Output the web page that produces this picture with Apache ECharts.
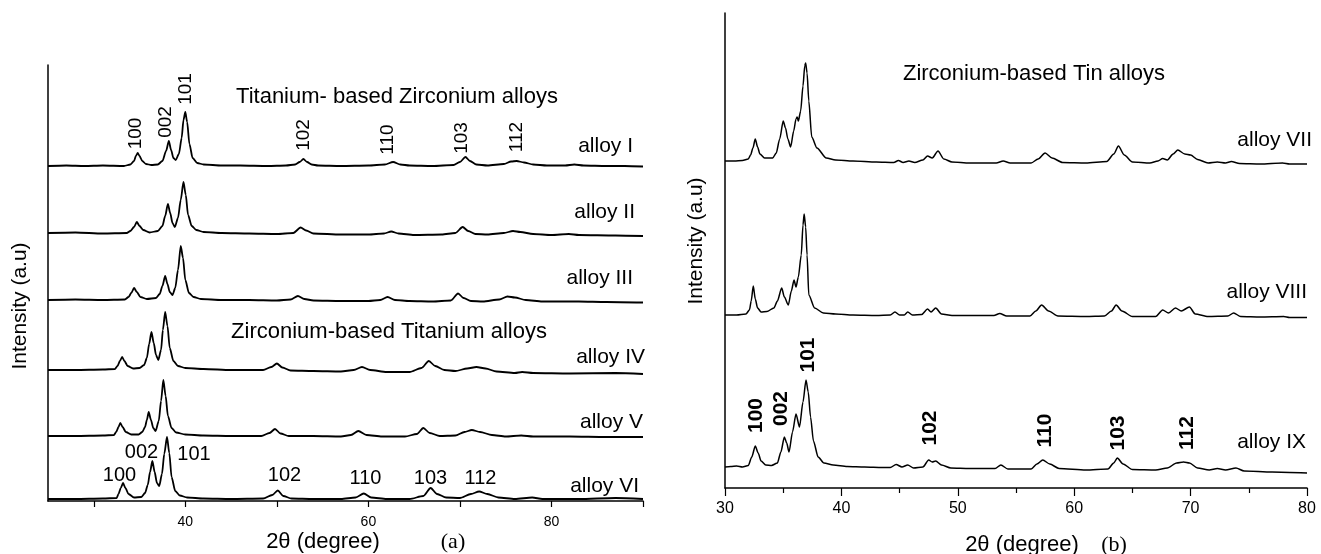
<!DOCTYPE html>
<html><head><meta charset="utf-8">
<script src="https://cdn.jsdelivr.net/npm/echarts@6/dist/echarts.min.js"></script>
<style>html,body{margin:0;padding:0;background:#fff}#c{width:1321px;height:554px}</style>
</head><body><div id="c"></div>
<script>
// ---------- DATA (2θ in degrees, intensity above each pattern's baseline, arbitrary units) ----------
const alloyI = [[25,0],[27,0.5],[29,0],[31,0.5],[33.3,0],[34.0,1.5],[34.4,5],[34.6,10],[34.8,13],[35.0,10],[35.3,5],[35.7,2],[36.3,1],[37.0,1.5],[37.5,5],[37.9,15],[38.2,25],[38.45,16],[38.7,8],[38.95,6],[39.3,12],[39.6,28],[39.8,46],[40.0,54],[40.2,44],[40.45,22],[40.8,8],[41.3,3],[42,1.5],[44,0.5],[46,0.5],[49,0],[51,0.5],[52.0,1.5],[52.5,4],[52.9,7],[53.3,4],[53.8,1.5],[54.5,0.5],[57,0],[60,0.5],[61.8,1.5],[62.7,4],[63.5,1.5],[64.5,0.5],[67,0],[69.3,1],[70.0,4],[70.6,9],[71.1,5],[71.8,1.5],[73,0.5],[74.8,2],[75.6,4.5],[76.2,5],[77,3.5],[78,1.5],[79.5,0.5],[81.5,0.5],[82.5,1.5],[83.5,0.5],[86,0],[88,0],[90,-0.5]];
const alloyII = [[25,0],[28,0.5],[31,-0.5],[33.6,0],[34.0,2],[34.4,6],[34.7,11],[35.0,7],[35.4,3],[36.1,0.5],[37.0,2],[37.5,7],[37.8,17],[38.1,29],[38.35,20],[38.6,10],[38.85,6],[39.2,15],[39.5,33],[39.8,51],[40.05,38],[40.3,18],[40.7,7],[41.2,3],[42,1],[44,0],[47,-0.5],[50,-1],[51.8,0],[52.6,5.5],[53.2,2.5],[54,-0.5],[57,-1.5],[60,-1.5],[61.7,-0.5],[62.5,1.5],[63.3,-0.5],[65,-2],[68,-1.5],[69.5,0],[70.3,6],[70.9,2],[71.7,-1],[73,-1.5],[74.8,0],[75.8,2],[76.6,1],[78,-1],[80,-2],[81.9,-1],[83,-2],[87,-2.5],[90,-3]];
const alloyIII = [[25,0],[28,0.5],[31,0],[33.4,0.5],[33.8,3],[34.1,7],[34.4,12],[34.7,8],[35.1,3],[35.8,1],[36.8,2],[37.2,6],[37.5,14],[37.8,24],[38.05,16],[38.3,8],[38.6,5],[38.9,12],[39.2,30],[39.5,54],[39.75,42],[40.0,20],[40.4,7],[40.9,3],[41.7,1],[44,0],[47,0],[50,-0.5],[51.5,0.5],[52.3,4],[53.0,1],[54,-0.5],[57,-1],[60,-1],[61.3,0],[62.1,3],[62.9,0],[64.5,-1],[67,-1.5],[69,-0.5],[69.8,6.5],[70.4,2],[71.2,-1],[72.5,-1.5],[74.3,0.5],[75.2,3.5],[76,2.5],[77.2,0],[79,-1.5],[81,-1.5],[83,-1.5],[86,-2],[90,-2.5]];
const alloyIV = [[25,0],[28,0],[31,0.5],[32.3,1],[32.6,4],[32.85,9],[33.1,13],[33.35,9],[33.7,4],[34.3,1.5],[35.0,2],[35.5,5],[35.8,12],[36.05,26],[36.3,38],[36.55,27],[36.8,15],[37.05,10],[37.35,20],[37.55,40],[37.8,58],[38.05,44],[38.3,22],[38.7,9],[39.2,4],[40,2],[42,1],[45,0],[48.5,0],[49.4,3],[50.0,6.5],[50.6,2.5],[51.5,-0.5],[54,-1],[57,-1.5],[58.4,0],[59.3,3],[60.2,0],[62,-2],[64.5,-2],[65.8,2],[66.6,9],[67.3,4],[68.3,0],[69.5,-1],[70.8,1.5],[71.8,3],[72.8,1.5],[74,-1.5],[76,-3],[76.8,-2],[78,-3],[82,-3.5],[87,-3],[90,-4]];
const alloyV = [[25,0],[28,0],[31,0.5],[32.2,1],[32.45,4],[32.7,9],[32.9,13],[33.15,9],[33.5,4],[34.1,1.5],[34.9,1.5],[35.3,4],[35.6,9],[35.8,16],[36.0,24],[36.25,16],[36.5,8],[36.75,5],[37.1,15],[37.35,35],[37.6,56],[37.85,40],[38.1,20],[38.5,8],[39,3.5],[40,1.5],[42,0.5],[45,0],[48.3,0],[49.2,3],[49.8,7],[50.4,2.5],[51.3,0],[54,0],[57,-0.5],[58.1,1],[58.9,5],[59.8,1],[61.5,-0.5],[64,-0.5],[65.3,2],[66.0,8],[66.7,3],[67.8,0],[69.5,0.5],[70.5,4],[71.3,6],[72.2,4],[73.5,1],[75,-0.5],[76.7,0.5],[78,-0.5],[82,-0.5],[86,-1],[90,-1]];
const alloyVI = [[25,0],[28,0],[31,0.5],[32.5,1],[32.7,5],[32.95,11],[33.2,16],[33.45,11],[33.8,5],[34.4,1.5],[35.2,2],[35.6,6],[35.9,14],[36.15,27],[36.4,38],[36.65,27],[36.9,16],[37.15,13],[37.45,25],[37.7,45],[38.0,62],[38.25,46],[38.5,22],[38.9,8],[39.4,3.5],[40.2,1.5],[42,0.5],[45,0],[48.5,0.5],[49.5,4],[50.1,8.5],[50.7,3],[51.6,0.5],[54,0],[57,0],[58.6,1.5],[59.5,5.5],[60.3,1.5],[62,0],[64.5,0],[66,3],[66.8,11],[67.5,5],[68.5,1.5],[70,1],[71.2,5],[72.1,7.5],[73,5],[74.2,1.5],[76,0],[77.9,1.5],[79,0],[83,0],[87,1],[90,0]];

const alloyVII = [[30,0],[30.8,0],[31.5,0.5],[32.0,2],[32.2,6],[32.4,13],[32.6,22],[32.8,14],[33.0,7],[33.4,3],[34.1,3],[34.4,8],[34.7,22],[35.0,40],[35.2,33],[35.4,22],[35.64,14],[35.9,30],[36.1,42],[36.2,44],[36.3,40],[36.5,50],[36.7,75],[36.85,95],[36.93,98],[37.05,88],[37.2,60],[37.45,24],[37.9,13],[38.7,3],[39.5,1],[41,0],[43,-1],[44.5,-1.5],[44.9,0.5],[45.3,-1.5],[45.8,0],[46.3,-1.5],[47.0,1],[47.4,5],[47.8,3],[48.3,10],[48.8,2],[49.5,-1],[51,-2],[53.3,-2],[53.9,0],[54.5,-2],[56.3,-2],[56.9,2],[57.5,8],[58.1,3],[59,-1.5],[61,-2],[62.8,-0.5],[63.4,7],[63.8,15],[64.3,6],[65,-1],[66.5,-2],[67.2,0],[67.6,2.5],[68.0,1],[68.5,7],[68.9,11],[69.5,7],[70.0,6],[70.6,1.5],[71.5,-2],[72.3,-1],[73.0,-2],[73.5,-0.5],[74.2,-2.5],[76,-3],[77.9,-2],[78.5,-3],[80,-3]];
const alloyVIII = [[30,0],[31,0],[31.8,1],[32.1,5],[32.25,14],[32.43,29],[32.6,16],[32.8,7],[33.1,3],[33.6,3.5],[34.2,7],[34.5,14],[34.87,27],[35.1,18],[35.44,10],[35.7,24],[35.93,35],[36.1,28],[36.3,38],[36.55,60],[36.7,90],[36.8,101],[36.93,88],[37.05,60],[37.2,20],[37.7,7],[38.45,2],[39.5,1],[41,0],[43,-0.5],[44.2,0],[44.6,3],[45.0,0],[45.4,0],[45.7,3],[46.1,0],[46.9,0.5],[47.4,6],[47.7,3],[48.1,7],[48.6,1],[49.5,-0.5],[51,-0.5],[53.1,-0.5],[53.6,1.5],[54.2,-1],[56.2,-1],[56.7,4],[57.2,10],[57.8,4],[58.6,-1],[61,-1.5],[62.6,-1],[63.2,4],[63.6,10],[64.1,4],[65,-1.5],[67,-1.5],[67.6,5],[68.1,2],[68.7,7],[69.2,4],[69.9,8],[70.4,1],[71.5,-1.5],[73.2,-1],[73.7,2],[74.3,-1.5],[76,-2],[78,-1.5],[78.5,-2.5],[80,-2.5]];
const alloyIX = [[30,0],[30.5,0.5],[31,1],[31.5,0],[32.0,1.5],[32.3,10],[32.6,21],[32.85,14],[33.1,6],[33.5,2],[34.0,1.5],[34.5,4],[34.8,15],[35.1,30],[35.3,24],[35.5,15],[35.8,35],[36.1,53],[36.4,40],[36.7,65],[36.96,87],[37.15,75],[37.35,50],[37.6,26],[38.0,10],[38.5,4],[39.3,2],[40.5,0.5],[42,0],[43.5,-0.5],[44.2,-0.5],[44.7,2.5],[45.2,0],[45.7,2],[46.2,-1],[47.0,0],[47.5,7],[47.8,5],[48.1,6],[48.6,2],[49.4,-1],[51,-1.5],[53.2,-1.5],[53.7,2],[54.3,-2],[56.3,-2],[56.8,3],[57.3,7],[57.9,3],[58.7,-1.5],[61,-3],[62.9,-2],[63.4,4],[63.7,9],[64.2,3],[65,-2.5],[67,-3],[68,-1],[68.8,4],[69.4,5],[69.9,4],[70.6,-1],[71.6,-3],[72.3,-1.5],[73.0,-3],[73.9,-1],[74.6,-4],[77,-5],[80,-6]];

const offsetsA = [335, 268, 201, 131, 65, 2];
const offsetsB = [327, 173, 21];
const namesA = ['alloy I', 'alloy II', 'alloy III', 'alloy IV', 'alloy V', 'alloy VI'];
const namesB = ['alloy VII', 'alloy VIII', 'alloy IX'];
const hkl = ['100', '002', '101', '102', '110', '103', '112'];
const tickValuesA = [30, 40, 50, 60, 70, 80, 90];
const labelValuesA = [40, 60, 80];

// ---------- LAYOUT ----------
const SANS = '"Liberation Sans", Arial, sans-serif';
const SERIF = '"Liberation Serif", "Times New Roman", serif';
const hklPosA = [[136,133.5],[166,122],[186,89],[304,135],[388,139.5],[462,138],[517,137]];
const hklPosA6 = [[119.5,475],[141.5,452],[194,454],[284.5,475],[365.5,478],[430.5,478],[480.5,478]];
const hklPosB = [[756,415.5],[781,408.5],[808,355],[930,428],[1045,430.5],[1118,433],[1187,433]];
const namePosA = [[633,146],[635,212],[633,278],[645,357],[643,422],[639,486]];
const namePosB = [[1312,140],[1307,292],[1306,442]];

function txt(text, x, y, size, o) {
  o = o || {};
  const align = o.align || 'center';
  return {
    type: 'text', x: x, y: y, rotation: o.rot || 0, silent: true, z: 10,
    style: {
      text: text, fill: '#000',
      font: (o.weight || 'normal') + ' ' + size + 'px ' + (o.family || SANS),
      align: align, textAlign: align, verticalAlign: 'middle', textVerticalAlign: 'middle'
    }
  };
}

const chart = echarts.init(document.getElementById('c'), null, {renderer: 'canvas'});

const dataA = [alloyI, alloyII, alloyIII, alloyIV, alloyV, alloyVI];
const dataB = [alloyVII, alloyVIII, alloyIX];
const series = [];
dataA.forEach((d, i) => series.push({
  type: 'line', name: namesA[i], xAxisIndex: 0, yAxisIndex: 0, showSymbol: false, symbol: 'none',
  smooth: 0.25, smoothMonotone: 'x', animation: false,
  lineStyle: {color: '#000', width: 1.8}, data: d.map(p => [p[0], p[1] + offsetsA[i]])
}));
dataB.forEach((d, i) => series.push({
  type: 'line', name: namesB[i], xAxisIndex: 1, yAxisIndex: 1, showSymbol: false, symbol: 'none',
  smooth: 0.25, smoothMonotone: 'x', animation: false,
  lineStyle: {color: '#000', width: 1.5}, data: d.map(p => [p[0], p[1] + offsetsB[i]])
}));

const graphics = [];
hkl.forEach((t, i) => {
  graphics.push(txt(t, hklPosA[i][0], hklPosA[i][1], 19, {rot: Math.PI / 2}));
  graphics.push(txt(t, hklPosA6[i][0], hklPosA6[i][1], 20));
  graphics.push(txt(t, hklPosB[i][0], hklPosB[i][1], 21, {rot: Math.PI / 2, weight: 'bold'}));
});
namesA.forEach((t, i) => graphics.push(txt(t, namePosA[i][0], namePosA[i][1], 21, {align: 'right'})));
namesB.forEach((t, i) => graphics.push(txt(t, namePosB[i][0], namePosB[i][1], 21, {align: 'right'})));
graphics.push(txt('Titanium- based Zirconium alloys', 397, 97, 22));
graphics.push(txt('Zirconium-based Titanium alloys', 389, 332, 22));
graphics.push(txt('Zirconium-based Tin alloys', 1034, 74, 22));
graphics.push(txt('2θ (degree)', 323, 542, 22));
graphics.push(txt('(a)', 453, 542, 22, {family: SERIF}));
graphics.push(txt('2θ (degree)', 1022, 545, 22));
graphics.push(txt('(b)', 1114, 545, 22, {family: SERIF}));
graphics.push(txt('Intensity (a.u)', 20, 306, 21, {rot: Math.PI / 2}));
graphics.push(txt('Intensity (a.u)', 696, 241, 21, {rot: Math.PI / 2}));

const axisLineStyle = {color: '#000', width: 1.5};

chart.setOption({
  animation: false,
  backgroundColor: '#fff',
  grid: [
    {left: 48, right: 678, top: 65, bottom: 53},
    {left: 725, right: 14, top: 13, bottom: 66}
  ],
  xAxis: [
    {
      type: 'value', gridIndex: 0, min: 25, max: 90, splitNumber: 7,
      axisLine: {show: true, lineStyle: axisLineStyle},
      axisTick: {show: true, length: 6, customValues: tickValuesA, lineStyle: {color: '#000', width: 1.2}},
      axisLabel: {show: true, customValues: labelValuesA, color: '#000', fontSize: 14, fontFamily: SANS, margin: 14,
        formatter: v => (labelValuesA.indexOf(v) >= 0 ? String(v) : '')},
      splitLine: {show: false}
    },
    {
      type: 'value', gridIndex: 1, min: 30, max: 80, interval: 10,
      axisLine: {show: true, lineStyle: axisLineStyle},
      axisTick: {show: true, length: 8, lineStyle: {color: '#000', width: 1.2}},
      minorTick: {show: true, splitNumber: 2, length: 5, lineStyle: {color: '#000', width: 1.2}},
      axisLabel: {color: '#000', fontSize: 16, fontFamily: SANS, margin: 13},
      splitLine: {show: false}, minorSplitLine: {show: false}
    }
  ],
  yAxis: [
    {type: 'value', gridIndex: 0, min: 0, max: 436, axisLine: {show: true, lineStyle: axisLineStyle},
      axisTick: {show: false}, axisLabel: {show: false}, splitLine: {show: false}},
    {type: 'value', gridIndex: 1, min: 0, max: 475, axisLine: {show: true, lineStyle: axisLineStyle},
      axisTick: {show: false}, axisLabel: {show: false}, splitLine: {show: false}}
  ],
  series: series,
  graphic: {elements: graphics}
});
</script>
</body></html>
